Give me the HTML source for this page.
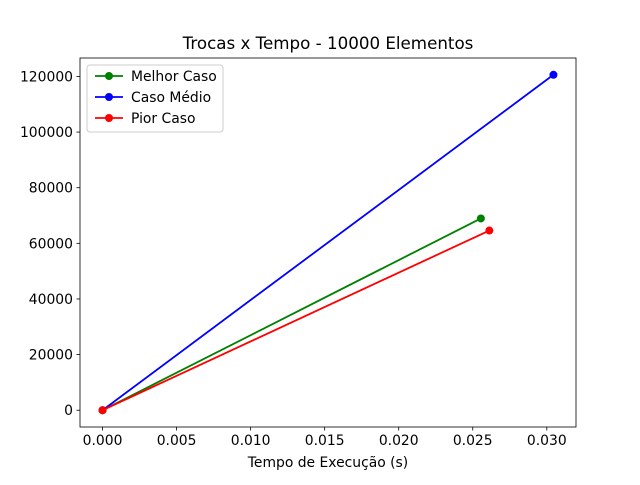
<!DOCTYPE html>
<html><head><meta charset="utf-8"><style>
body{margin:0;background:#fff;}
svg text{font-family:"DejaVu Sans","Liberation Sans",sans-serif;}
</style></head><body>
<svg id="chart" width="640" height="480" xmlns="http://www.w3.org/2000/svg"></svg>
<script>
const xTicks=[0,0.005,0.010,0.015,0.020,0.025,0.030];
const xTickLabels=["0.000","0.005","0.010","0.015","0.020","0.025","0.030"];
const yTicks=[0,20000,40000,60000,80000,100000,120000];
const seriesNames=["Melhor Caso","Caso Médio","Pior Caso"];
const seriesColors=["green","blue","red"];
const melhorX=[0,0.02555]; const melhorY=[0,68950];
const medioX=[0,0.03045]; const medioY=[0,120600];
const piorX=[0,0.02612]; const piorY=[0,64600];
const SX=[melhorX,medioX,piorX], SY=[melhorY,medioY,piorY];

const L=80,R=576,T=58,B=427;
const allX=[].concat(...SX), allY=[].concat(...SY);
let x0=Math.min(...allX),x1=Math.max(...allX),y0=Math.min(...allY),y1=Math.max(...allY);
const mx=(x1-x0)*0.05,my=(y1-y0)*0.05;x0-=mx;x1+=mx;y0-=my;y1+=my;
const sx=v=>L+(v-x0)/(x1-x0)*(R-L);
const sy=v=>B-(v-y0)/(y1-y0)*(B-T);
const svg=document.getElementById('chart');const NS="http://www.w3.org/2000/svg";
function mk(t,a,txt){const e=document.createElementNS(NS,t);for(const k in a)e.setAttribute(k,a[k]);if(txt!==undefined)e.textContent=txt;svg.appendChild(e);return e;}
let e;
e=mk('text',{x:328,y:49,'font-size':16.7,'text-anchor':'middle'},'Trocas x Tempo - 10000 Elementos');

xTicks.forEach((v,i)=>{const x=sx(v);
 e=mk('line',{x1:x,x2:x,y1:B,y2:B+3.5,stroke:'#000','stroke-width':0.8});
 
 e=mk('text',{x:x,y:B+18,'font-size':13.9,'text-anchor':'middle'},xTickLabels[i]);
 });
yTicks.forEach(v=>{const y=sy(v);
 e=mk('line',{x1:L-3.5,x2:L,y1:y,y2:y,stroke:'#000','stroke-width':0.8});
 
 e=mk('text',{x:L-7,y:y+5,'font-size':13.9,'text-anchor':'end'},String(v));
 });
e=mk('text',{x:328,y:467,'font-size':13.9,'text-anchor':'middle'},'Tempo de Execução (s)');

SX.forEach((xs,s)=>{
 const pts=xs.map((v,i)=>sx(v)+','+sy(SY[s][i])).join(' ');
 e=mk('polyline',{points:pts,fill:'none',stroke:seriesColors[s],'stroke-width':1.8});
 
 xs.forEach((v,i)=>{e=mk('circle',{cx:sx(v),cy:sy(SY[s][i]),r:4,fill:seriesColors[s]});
 });
});
e=mk('rect',{x:L,y:T,width:R-L,height:B-T,fill:'none',stroke:'#000','stroke-width':0.8});

e=mk('rect',{x:87,y:65,width:136,height:67,fill:'#fff',stroke:'#ccc','stroke-width':1,rx:3});

seriesNames.forEach((n,i)=>{const y=76+i*21;
 e=mk('line',{x1:95,x2:123,y1:y,y2:y,stroke:seriesColors[i],'stroke-width':1.8});
 
 e=mk('circle',{cx:109,cy:y,r:4,fill:seriesColors[i]});
 
 e=mk('text',{x:131,y:y+5,'font-size':13.9},n);
 });
</script>
</body></html>
